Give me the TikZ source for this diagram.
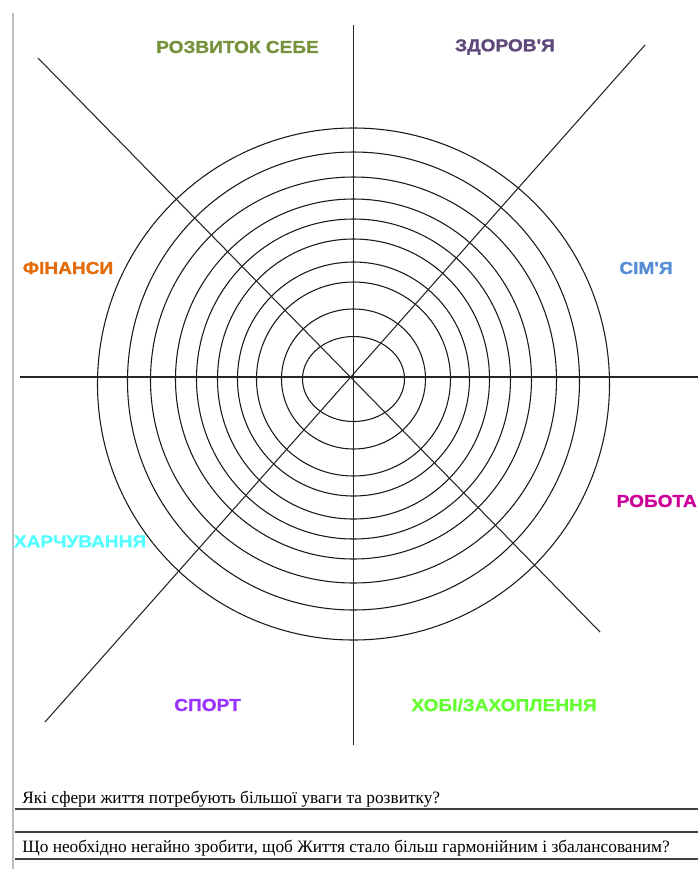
\documentclass[tikz,border=0pt]{standalone}
\usepackage{fontspec}
\setmainfont{Liberation Serif}
\newfontfamily\lblfont[FakeStretch=1.1,FakeBold=1.2]{Liberation Sans}
\definecolor{cOlive}{HTML}{76923C}
\definecolor{cPurple}{HTML}{5F497A}
\definecolor{cOrange}{HTML}{E36C09}
\definecolor{cBlue}{HTML}{558ED5}
\definecolor{cCyan}{HTML}{55FFFF}
\definecolor{cMagenta}{HTML}{CC0099}
\definecolor{cViolet}{HTML}{9933FF}
\definecolor{cGreen}{HTML}{66FF33}
\begin{document}
\begin{tikzpicture}[x=0.75pt,y=-0.75pt,
  ring/.style={draw=black!90,line width=0.8pt},
  axis/.style={draw=black!85,line width=0.8pt},
  lbl/.style={font=\lblfont\bfseries\fontsize{13}{15}\selectfont,inner sep=0pt},
  question/.style={font=\fontsize{13}{15}\selectfont,inner sep=0pt,anchor=base west},
  rule/.style={draw=black!75,line width=1pt}]
\useasboundingbox (0,0) rectangle (698,869);
\clip (0,0) rectangle (698,869);
\fill[white] (0,0) rectangle (698,869);
% left grey margin line
\coordinate (gt) at (13,13);
\coordinate (gb) at (13,869);
\draw[draw=black!25,line width=0.8pt] (gt) -- (gb);
% rings
\foreach \rx/\ry/\cy in {256/256/384, 226/229/381, 203/203/380, 178/180/379, 157/160/379, 136/140/379, 116/117/379, 97/97/379, 72/70/379, 51/42.5/379}{
  \draw[ring] (353.5,\cy) ellipse [x radius=\rx, y radius=\ry];
}
% axes
\coordinate (c) at (353.5,377);
\coordinate (hl) at (20,377);
\coordinate (hr) at (698,377);
\coordinate (vt) at (353.5,25);
\coordinate (vb) at (353.5,745);
\coordinate (nw) at (38,58);
\coordinate (se) at (600,632);
\coordinate (ne) at (645,45);
\coordinate (sw) at (45,722);
\draw[axis] (hl) -- (hr);
\draw[axis] (vt) -- (vb);
\draw[axis] (nw) -- (se);
\draw[axis] (ne) -- (sw);
% labels
\node[lbl,text=cOlive] (rozv) at (237.5,47) {РОЗВИТОК СЕБЕ};
\node[lbl,text=cPurple] (zdor) at (505,47) {ЗДОРОВ'Я};
\node[lbl,text=cOrange] (fin) at (68,268) {ФІНАНСИ};
\node[lbl,text=cBlue] (sim) at (646,268) {СІМ'Я};
\node[lbl,text=cCyan] (harch) at (80,541.5) {ХАРЧУВАННЯ};
\node[lbl,text=cMagenta,anchor=east] (rob) at (697,501) {РОБОТА};
\node[lbl,text=cViolet] (sport) at (207.5,705) {СПОРТ};
\node[lbl,text=cGreen] (hobi) at (504,705) {ХОБІ/ЗАХОПЛЕННЯ};
% questions
\node[question] (q1) at (22,803) {Які сфери життя потребують більшої уваги та розвитку?};
\coordinate (r1l) at (15,809);
\coordinate (r1r) at (698,809);
\coordinate (r2l) at (15,832);
\coordinate (r2r) at (698,832);
\node[question] (q2) at (22,852) {Що необхідно негайно зробити, щоб Життя стало більш гармонійним і збалансованим?};
\coordinate (r3l) at (15,859);
\coordinate (r3r) at (698,859);
\draw[rule] (r1l) -- (r1r);
\draw[rule] (r2l) -- (r2r);
\draw[rule] (r3l) -- (r3r);
\end{tikzpicture}
\end{document}
